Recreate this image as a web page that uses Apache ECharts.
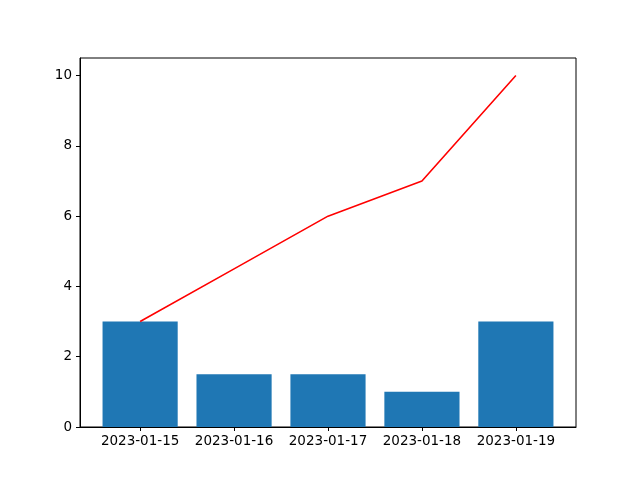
<!DOCTYPE html>
<html>
<head>
<meta charset="utf-8">
<script src="https://cdn.jsdelivr.net/npm/echarts@6/dist/echarts.min.js"></script>
<style>html,body{margin:0;padding:0;background:#fff}#c{width:640px;height:480px}</style>
</head>
<body>
<div id="c"></div>
<script>
const categories = ['2023-01-15', '2023-01-16', '2023-01-17', '2023-01-18', '2023-01-19'];
const barValues = [3, 1.5, 1.5, 1, 3];
const lineValues = [3, 4.5, 6, 7, 10];
const yTicks = [0, 2, 4, 6, 8, 10];

const xMin = -0.64, xMax = 4.64;
const plotW = 640 - 80 - 64;
const barW = 0.8 * plotW / (xMax - xMin);
const xIdx = categories.map((_, i) => i);

const chart = echarts.init(document.getElementById('c'));
const font = { fontFamily: 'DejaVu Sans', fontSize: 13.5, color: '#000' };
chart.setOption({
  animation: false,
  grid: { left: 80, right: 64, top: 58, bottom: 53, show: true, borderColor: '#000', borderWidth: 1, backgroundColor: 'transparent' },
  xAxis: {
    type: 'value', min: xMin, max: xMax,
    splitLine: { show: false },
    axisLine: { show: true, onZero: false, lineStyle: { color: '#000' } },
    axisTick: { show: true, length: 4, lineStyle: { color: '#000' }, customValues: xIdx },
    axisLabel: Object.assign({ margin: 7, customValues: xIdx, formatter: v => categories[Math.round(v)] }, font)
  },
  yAxis: {
    type: 'value', min: 0, max: 10.5,
    splitLine: { show: false },
    axisLine: { show: true, onZero: false, lineStyle: { color: '#000' } },
    axisTick: { show: true, length: 4, lineStyle: { color: '#000' }, customValues: yTicks },
    axisLabel: Object.assign({ margin: 8, customValues: yTicks }, font)
  },
  series: [
    {
      type: 'bar', barWidth: barW,
      itemStyle: { color: '#1f77b4' },
      data: barValues.map((v, i) => [i, v]),
      z: 2
    },
    {
      type: 'line', showSymbol: false, symbol: 'none',
      lineStyle: { color: '#ff0000', width: 1.6 },
      data: lineValues.map((v, i) => [i, v]),
      z: 3
    }
  ]
});
</script>
</body>
</html>
